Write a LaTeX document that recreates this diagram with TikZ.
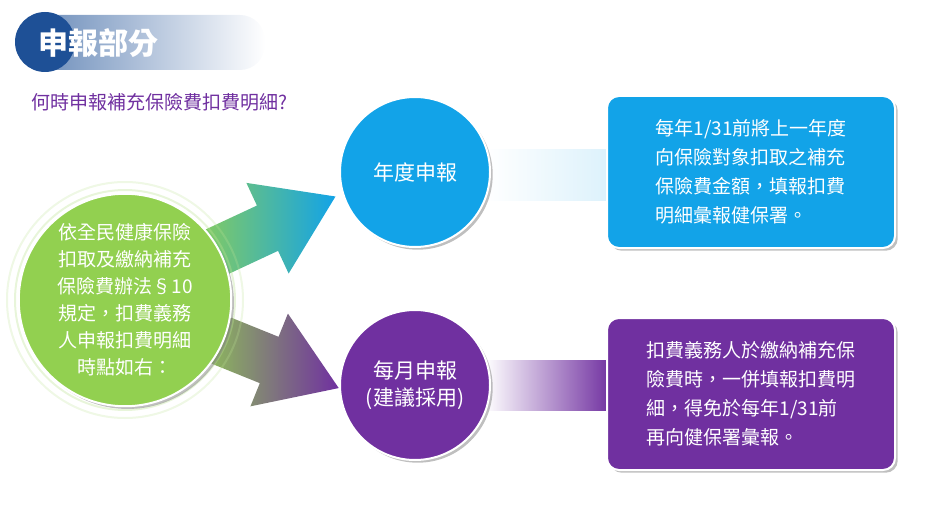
\documentclass[tikz,border=0pt]{standalone}
\usepackage{fontspec}
\setmainfont{Noto Sans CJK TC}
\usetikzlibrary{positioning,shadows}
\definecolor{skyblue}{RGB}{18,163,232}
\definecolor{violet}{RGB}{112,48,160}
\definecolor{leafgreen}{RGB}{146,208,80}
\definecolor{navy}{RGB}{30,80,150}
\tikzset{
  % round nodes
  hub/.style = {
    circle,
    draw = white,
    line width = 2pt,
    minimum size = 150pt,
    text = white,
    align = center,
    font = \fontsize{21}{27}\selectfont,
    drop shadow
  },
  % text boxes on the right
  note/.style = {
    rounded corners = 12pt,
    draw = white,
    line width = 2pt,
    minimum width = 288pt,
    minimum height = 152pt,
    text = white,
    align = left,
    font = \fontsize{19}{29}\selectfont,
    drop shadow
  }
}
\begin{document}
\begin{tikzpicture}[x=1pt,y=-1pt]
  \useasboundingbox (0,0) rectangle (925,505);
  % title banner
  \shade[left color=navy!70,right color=white,rounded corners=25pt]
    (20,15) rectangle (265,70);
  \fill[navy] (45,42) circle (30);
  \node[font=\fontsize{30}{32}\selectfont\bfseries,text=white] (title) at (98,43) {申報部分};
  \node[font=\fontsize{19}{22}\selectfont,text=violet,anchor=west] (question) at (28,102) {何時申報補充保險費扣費明細?};

  % arrows
  \begin{scope}[shift={(195,262)},rotate=25]
    \shade[left color=leafgreen,right color=skyblue]
      (0,-25) -- (80,-25) -- (80,-50) -- (155,0) -- (80,50) -- (80,25) -- (0,25) -- cycle;
  \end{scope}
  \begin{scope}[shift={(195,330)},rotate=-22]
    \shade[left color=leafgreen,right color=violet]
      (0,-25) -- (80,-25) -- (80,-50) -- (155,0) -- (80,50) -- (80,25) -- (0,25) -- cycle;
  \end{scope}

  % bands to the boxes
  \shade[left color=white,right color=skyblue!15] (485,150) rectangle (612,200);
  \shade[left color=white,right color=violet] (485,360) rectangle (612,410);

  \foreach \r/\o in {118/0.25,110/0.35,104/0.5}
    \draw[leafgreen!60,line width=2pt,opacity=\o] (125,300) circle (\r);
  \node[hub,fill=leafgreen,minimum size=200pt,font=\fontsize{19}{27}\selectfont] (rule) at (125,300)
    {依全民健康保險\\扣取及繳納補充\\保險費辦法§10\\規定，扣費義務\\人申報扣費明細\\時點如右：};

  \node[hub,fill=skyblue] (yearly) at (415,172) {年度申報};
  \node[hub,fill=violet] (monthly) at (415,385) {每月申報\\(建議採用)};

  \node[note,fill=skyblue] (yearbox) at (751,172)
    {每年1/31前將上一年度\\向保險對象扣取之補充\\保險費金額，填報扣費\\明細彙報健保署。};
  \node[note,fill=violet] (monthbox) at (751,394)
    {扣費義務人於繳納補充保\\險費時，一併填報扣費明\\細，得免於每年1/31前\\再向健保署彙報。};
\end{tikzpicture}
\end{document}
